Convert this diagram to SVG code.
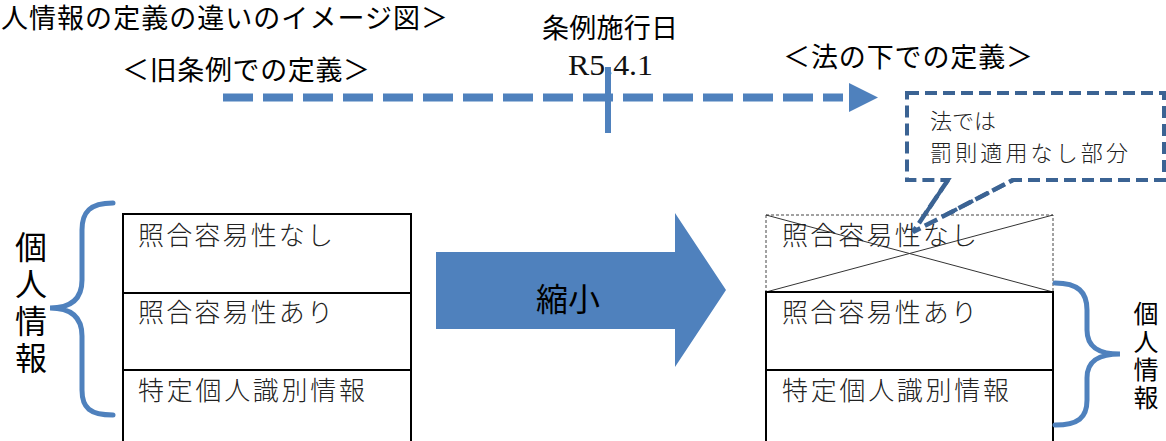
<svg xmlns="http://www.w3.org/2000/svg" width="1166" height="441" viewBox="0 0 1166 441">
<style>
.g{font-family:"Noto Sans CJK JP","Noto Sans",sans-serif;fill:#000}
.m{font-family:"Noto Sans CJK JP","Noto Sans",sans-serif;fill:#222;font-weight:300}
.v{writing-mode:vertical-rl;text-orientation:upright}
.brace{fill:none;stroke:#4f81bd;stroke-width:5;stroke-linecap:round}
.box{fill:#fff;stroke:#000;stroke-width:2}
</style>
<rect width="1166" height="441" fill="#fff"/>
<g id="labels">
<text class="g" x="1" y="28" font-size="27" textLength="447" lengthAdjust="spacing">人情報の定義の違いのイメージ図＞</text>
<text class="g" x="122" y="80" font-size="27" textLength="248" lengthAdjust="spacing">＜旧条例での定義＞</text>
<text class="g" x="542" y="38" font-size="27" textLength="136" lengthAdjust="spacing">条例施行日</text>
<text x="568" y="75" font-family="Liberation Serif,serif" font-size="30" textLength="85" lengthAdjust="spacingAndGlyphs" fill="#111">R5.4.1</text>
<text class="g" x="783" y="67" font-size="27" textLength="250" lengthAdjust="spacing">＜法の下での定義＞</text>
</g>
<g id="connectors">
<line x1="223" y1="97.5" x2="843" y2="97.5" stroke="#4f81bd" stroke-width="8" stroke-dasharray="30 10"/>
<polygon points="849,83 878,97.5 849,112" fill="#4f81bd"/>
<line x1="608" y1="67" x2="608" y2="133" stroke="#4f81bd" stroke-width="6"/>
</g>
<g id="callout">
<path d="M907,93 H1164 V180 H1013 L913,232 L948,180 H907 Z" fill="#fff" stroke="#3b6393" stroke-width="4" stroke-dasharray="12 6" stroke-linejoin="miter"/>
<text class="m" x="930" y="129" font-size="22">法では</text>
<text class="m" x="930" y="161" font-size="22" textLength="198" lengthAdjust="spacing">罰則適用なし部分</text>
</g>
<g id="left-table">
<rect class="box" x="123" y="214" width="288" height="232"/>
<line x1="123" y1="293" x2="411" y2="293" stroke="#000" stroke-width="2"/>
<line x1="123" y1="370" x2="411" y2="370" stroke="#000" stroke-width="2"/>
<text class="m" x="138" y="245" font-size="26" textLength="195" lengthAdjust="spacing">照合容易性なし</text>
<text class="m" x="138" y="322" font-size="26" textLength="195" lengthAdjust="spacing">照合容易性あり</text>
<text class="m" x="138" y="400" font-size="26" textLength="227" lengthAdjust="spacing">特定個人識別情報</text>
</g>
<g id="left-brace">
<path class="brace" d="M113,203 C90,203 82,212 82,230 V280 C82,300 70,308 50,308 C70,308 82,316 82,336 V390 C82,408 90,415 113,415"/>
<text class="g v" x="31" y="231" font-size="32" letter-spacing="5">個人情報</text>
</g>
<g id="shrink-arrow">
<polygon points="436,252 675,252 675,213 726,290 675,367 675,329 436,329" fill="#4f81bd"/>
<text class="g" x="568" y="311" font-size="32" text-anchor="middle">縮小</text>
</g>
<g id="right-table">
<rect x="766" y="215" width="287" height="77" fill="#fff" stroke="#444" stroke-width="1" stroke-dasharray="3 2"/>
<line x1="766" y1="215" x2="1053" y2="292" stroke="#333" stroke-width="1"/>
<line x1="1053" y1="215" x2="766" y2="292" stroke="#333" stroke-width="1"/>
<text class="m" x="782" y="245" font-size="26" textLength="195" lengthAdjust="spacing">照合容易性なし</text>
<rect class="box" x="766" y="292" width="287" height="154"/>
<line x1="766" y1="370" x2="1053" y2="370" stroke="#000" stroke-width="2"/>
<text class="m" x="782" y="322" font-size="26" textLength="195" lengthAdjust="spacing">照合容易性あり</text>
<text class="m" x="782" y="400" font-size="26" textLength="227" lengthAdjust="spacing">特定個人識別情報</text>
</g>
<g id="callout-pointer">
<path d="M948,180 L913,232 L1013,180" fill="none" stroke="#3b6393" stroke-width="4.5" stroke-dasharray="14 5"/>
</g>
<g id="right-brace">
<path class="brace" d="M1055,283 C1078,283 1087,292 1087,310 V330 C1087,348 1100,354 1120,354 C1100,354 1087,360 1087,378 V400 C1087,418 1078,425 1055,425"/>
<text class="g v" x="1146" y="301" font-size="25" letter-spacing="3">個人情報</text>
</g>
</svg>
